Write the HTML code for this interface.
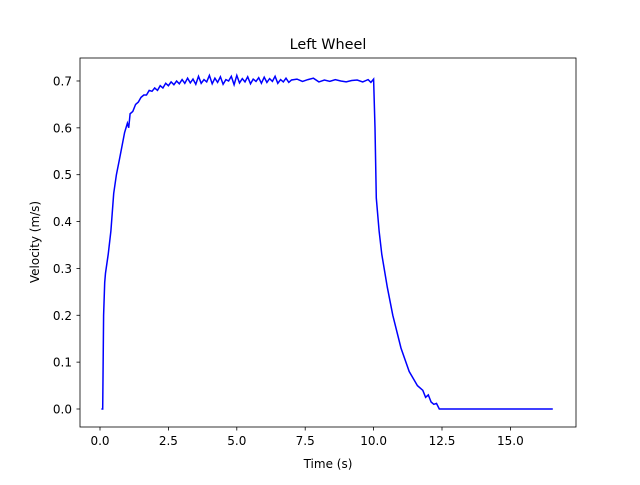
<!DOCTYPE html>
<html><head><meta charset="utf-8"><style>
body{margin:0;background:#fff}
text{font-family:"DejaVu Sans","Liberation Sans",sans-serif;fill:#000}
</style></head><body>
<svg id="chart" width="640" height="480" xmlns="http://www.w3.org/2000/svg">
<rect width="640" height="480" fill="#fff"/>
<text x="328" y="49" font-size="14.4" text-anchor="middle">Left Wheel</text>
<g id="xt"></g>
<g id="yt"></g>
<path id="line" fill="none" stroke="#0000ff" stroke-width="1.5"/>
<rect x="80" y="58" width="496" height="369" fill="none" stroke="#000" stroke-width="0.8"/>
<text x="328" y="468" font-size="12" text-anchor="middle">Time (s)</text>
<text x="0" y="0" font-size="12" text-anchor="middle" transform="translate(39,242) rotate(-90)">Velocity (m/s)</text>
</svg>
<script>
const xTicks=[0,2.5,5,7.5,10,12.5,15];
const xTickLabels=["0.0","2.5","5.0","7.5","10.0","12.5","15.0"];
const yTicks=[0,0.1,0.2,0.3,0.4,0.5,0.6,0.7];
const yTickLabels=["0.0","0.1","0.2","0.3","0.4","0.5","0.6","0.7"];
const times=[
0.05,0.1,0.13,0.17,0.2,0.3,0.4,0.5,0.6,0.7,0.8,0.9,1.0,
1.05,1.1,1.2,1.3,1.4,1.5,1.6,1.7,1.8,1.9,2.0,2.1,2.2,2.3,2.4,2.5,2.6,2.7,2.8,2.9,
3.0,3.1,3.2,3.3,3.4,3.5,3.6,3.7,3.8,3.9,
4.0,4.1,4.2,4.3,4.4,4.5,4.6,4.7,4.8,4.9,
5.0,5.1,5.2,5.3,5.4,5.5,5.6,5.7,5.8,5.9,
6.0,6.1,6.2,6.3,6.4,6.5,6.6,6.7,6.8,6.9,
7.0,
7.2,7.4,7.6,7.8,8.0,8.2,8.4,8.6,8.8,9.0,9.2,9.4,9.6,9.8,
9.9,10.0,
10.05,10.1,10.2,10.3,10.5,10.7,11.0,11.3,11.6,11.8,11.9,12.0,12.1,12.2,12.3,12.4,16.55];
const velocity=[
0,0,0.2,0.27,0.29,0.33,0.38,0.46,0.5,0.53,0.56,0.59,0.61,
0.6,0.63,0.635,0.65,0.655,0.665,0.67,0.67,0.68,0.678,0.685,0.68,0.69,0.685,0.695,0.69,0.698,0.692,0.7,0.694,
0.703,0.695,0.706,0.696,0.704,0.693,0.71,0.695,0.703,0.698,
0.712,0.694,0.706,0.697,0.709,0.693,0.703,0.7,0.71,0.692,
0.712,0.696,0.705,0.698,0.709,0.694,0.704,0.699,0.707,0.695,
0.708,0.697,0.705,0.699,0.71,0.695,0.703,0.698,0.706,0.697,
0.702,
0.704,0.699,0.703,0.706,0.698,0.702,0.699,0.703,0.7,0.698,0.701,0.702,0.698,0.703,
0.697,0.704,
0.6,0.45,0.38,0.33,0.26,0.2,0.13,0.08,0.05,0.04,0.025,0.03,0.015,0.01,0.012,0,0];
const X=v=>100+v*27.36, Y=v=>409-v*468.6;
const NS="http://www.w3.org/2000/svg";
const xt=document.getElementById('xt'), yt=document.getElementById('yt');
xTicks.forEach((t,i)=>{
 const l=document.createElementNS(NS,'line');
 
 
 l.setAttribute('x1',X(t));l.setAttribute('x2',X(t));l.setAttribute('y1',427);l.setAttribute('y2',430.5);l.setAttribute('stroke','#000');l.setAttribute('stroke-width','0.8');xt.appendChild(l);
 const tx=document.createElementNS(NS,'text');
 
 
 tx.setAttribute('x',X(t));tx.setAttribute('y',445);tx.setAttribute('font-size','12');tx.setAttribute('text-anchor','middle');tx.textContent=xTickLabels[i];xt.appendChild(tx);
});
yTicks.forEach((t,i)=>{
 const l=document.createElementNS(NS,'line');
 
 
 l.setAttribute('x1',76.5);l.setAttribute('x2',80);l.setAttribute('y1',Y(t));l.setAttribute('y2',Y(t));l.setAttribute('stroke','#000');l.setAttribute('stroke-width','0.8');yt.appendChild(l);
 const tx=document.createElementNS(NS,'text');
 
 
 tx.setAttribute('x',72);tx.setAttribute('y',Y(t)+4.5);tx.setAttribute('font-size','12');tx.setAttribute('text-anchor','end');tx.textContent=yTickLabels[i];yt.appendChild(tx);
});
const n=Math.min(times.length,velocity.length);
document.getElementById('line').setAttribute('d',times.slice(0,n).map((t,i)=>(i?'L':'M')+X(t).toFixed(1)+','+Y(velocity[i]).toFixed(1)).join(''));
</script>
</body></html>
